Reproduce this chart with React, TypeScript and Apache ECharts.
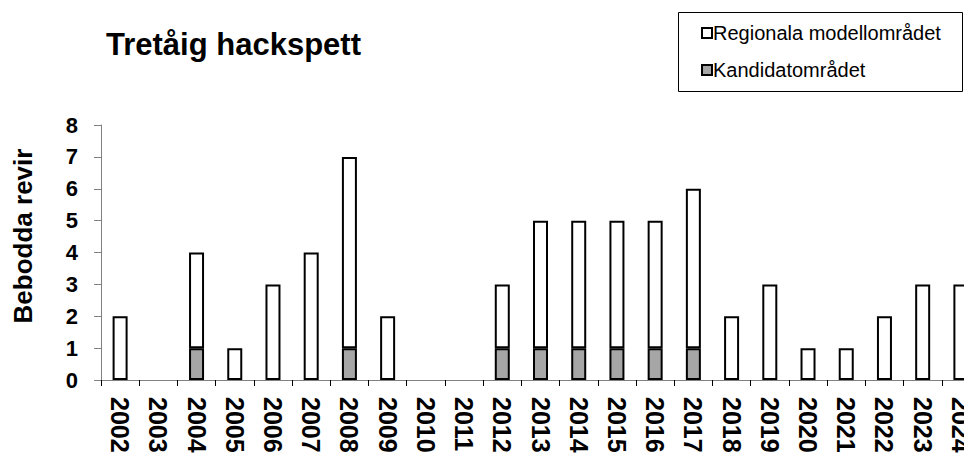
import React, { useEffect, useRef } from "react";
import * as echarts from "echarts";

const years = ["2002","2003","2004","2005","2006","2007","2008","2009","2010","2011","2012","2013","2014","2015","2016","2017","2018","2019","2020","2021","2022","2023","2024"];
const kandidat = [0,0,1,0,0,0,1,0,0,0,1,1,1,1,1,1,0,0,0,0,0,0,0];
const regionala = [2,0,3,1,3,4,6,2,0,0,2,4,4,4,4,5,2,3,1,1,2,3,3];
const yTicks = [0, 8, 1];

const FONT = "'Liberation Sans', Arial, sans-serif";

export default function App() {
  const ref = useRef<HTMLDivElement>(null);
  useEffect(() => {
    if (!ref.current) return;
    const chart = echarts.init(ref.current, undefined, { renderer: "svg" });
    const nz = (a: number[]) => a.map((v) => (v === 0 ? null : v));
    chart.setOption({
      animation: false,
      backgroundColor: "#ffffff",
      title: {
        text: "Tretåig hackspett",
        left: 101,
        top: 24,
        textStyle: { fontFamily: FONT, fontWeight: "bold", fontSize: 31, color: "#000" },
      },
      graphic: [
        {
          type: "rect",
          shape: { x: 678.5, y: 12.5, width: 284, height: 79 },
          style: { fill: "#fff", stroke: "#000", lineWidth: 1 },
          z: 0,
        },
        {
          type: "text",
          x: 23,
          y: 236,
          rotation: Math.PI / 2,
          style: {
            text: "Bebodda revir",
            fontFamily: FONT,
            fontWeight: "bold",
            fontSize: 26,
            fill: "#000",
            align: "center",
            verticalAlign: "middle",
          },
        },
      ],
      legend: {
        orient: "vertical",
        left: 696,
        top: 18,
        itemWidth: 10,
        itemHeight: 10,
        itemGap: 17,
        icon: "rect",
        data: ["Regionala modellområdet", "Kandidatområdet"],
        textStyle: { fontFamily: FONT, fontSize: 20, color: "#000", padding: [0, 0, 0, -4] },
        z: 5,
      },
      grid: { left: 101, top: 125, right: -16, height: 255, containLabel: false, outerBoundsMode: "none" },
      xAxis: {
        type: "category",
        data: years,
        axisLine: { lineStyle: { color: "#808080", width: 1 } },
        axisTick: { show: true, length: 6, lineStyle: { color: "#000" } },
        axisLabel: {
          rotate: -90,
          interval: 0,
          margin: 17,
          fontFamily: FONT,
          fontWeight: "bold",
          fontSize: 25,
          color: "#000",
        },
      },
      yAxis: {
        type: "value",
        min: yTicks[0],
        max: yTicks[1],
        interval: yTicks[2],
        axisLine: { show: true, lineStyle: { color: "#808080", width: 1 } },
        axisTick: { show: true, length: 7, lineStyle: { color: "#808080" } },
        splitLine: { show: false },
        axisLabel: {
          margin: 23,
          fontFamily: FONT,
          fontWeight: "bold",
          fontSize: 22,
          color: "#000",
        },
      },
      series: [
        {
          name: "Kandidatområdet",
          type: "bar",
          stack: "total",
          barWidth: 15,
          data: nz(kandidat),
          itemStyle: { color: "#a6a6a6", borderColor: "#000", borderWidth: 2 },
        },
        {
          name: "Regionala modellområdet",
          type: "bar",
          stack: "total",
          barWidth: 15,
          data: nz(regionala),
          itemStyle: { color: "#ffffff", borderColor: "#000", borderWidth: 2 },
        },
      ],
    });
    return () => chart.dispose();
  }, []);
  return (
    <div
      ref={ref}
      style={{ position: "fixed", left: 0, top: 0, width: 964, height: 454, background: "#fff" }}
    />
  );
}
